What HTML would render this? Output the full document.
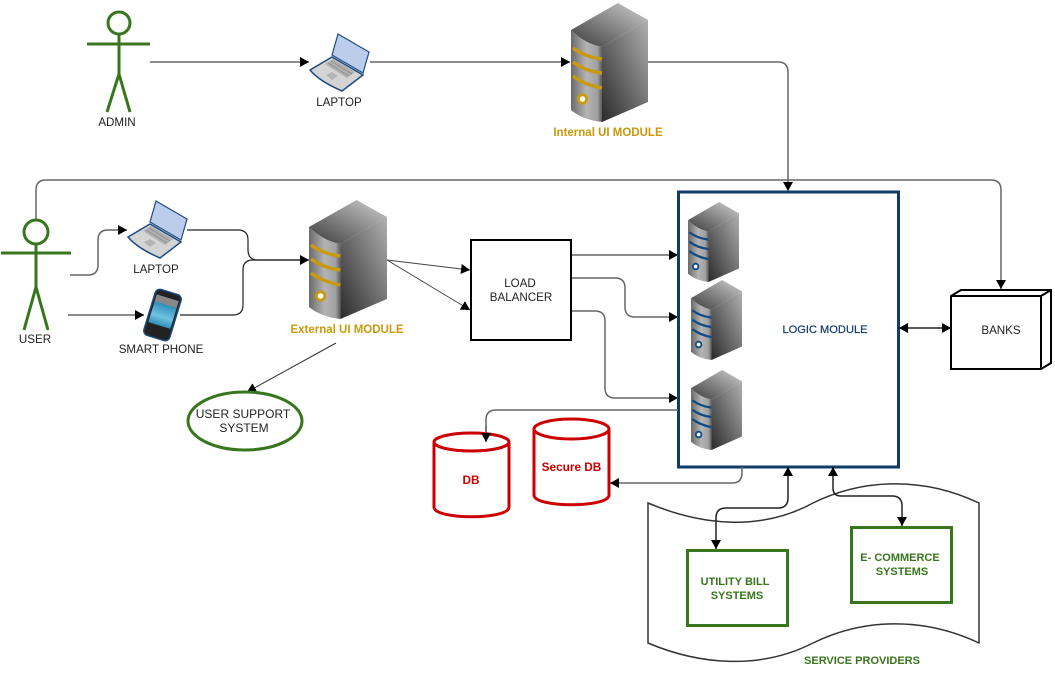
<!DOCTYPE html>
<html>
<head>
<meta charset="utf-8">
<style>
html,body{margin:0;padding:0;background:#fff;width:1055px;height:686px;overflow:hidden}
svg{display:block}
text{font-family:"Liberation Sans",sans-serif;font-size:12px;text-anchor:middle;fill:#222}
.b{font-weight:bold}
.g{fill:#38761d;font-size:11px}
.r{fill:#cc0000;font-size:11.8px}
.y{fill:#c99a0e;font-size:11.5px}
.n{fill:#0f3c68;font-size:11.1px;stroke:#0f3c68;stroke-width:.2}
.s{font-size:11.6px}
.c{fill:none;stroke:#666;stroke-width:1.5}
.d{fill:none;stroke:#222;stroke-width:1.5}
.t{fill:none;stroke:#333;stroke-width:1}
.actor{fill:none;stroke:#38761d;stroke-width:3}
</style>
</head>
<body>
<svg width="1055" height="686" viewBox="0 0 1055 686" xmlns="http://www.w3.org/2000/svg">
<defs>
<marker id="a" markerUnits="userSpaceOnUse" markerWidth="10" markerHeight="10" refX="9" refY="5" orient="auto-start-reverse">
<path d="M0 0L9 5L0 10Z" fill="#000"/>
</marker>
<linearGradient id="st" x1="0" y1="1" x2="1" y2="0"><stop offset="0" stop-color="#3c3c3c"/><stop offset="1" stop-color="#d0d0d0"/></linearGradient>
<linearGradient id="sr" x1="0" y1="1" x2="1" y2="0"><stop offset="0" stop-color="#2a2a2a"/><stop offset="1" stop-color="#b0b0b0"/></linearGradient>
<linearGradient id="sl" x1="0" y1="0" x2="1" y2="0"><stop offset="0" stop-color="#6a6a6a"/><stop offset=".5" stop-color="#b4b4b4"/><stop offset=".85" stop-color="#a0a0a0"/><stop offset="1" stop-color="#5a5a5a"/></linearGradient>
<linearGradient id="ps" x1="0" y1="0" x2="0" y2="1"><stop offset="0" stop-color="#2f8fb8"/><stop offset=".6" stop-color="#6fc2e2"/><stop offset="1" stop-color="#2f8fb8"/></linearGradient>
<symbol id="server" viewBox="0 0 77 119" preserveAspectRatio="none">
<path d="M47 0L77 17L31 44Q14 41 0 27Z" fill="url(#st)"/>
<path d="M31 44L77 17V99L31 119Z" fill="url(#sr)"/>
<path d="M0 27Q14 41 31 44V119Q12 117 0 107Z" fill="url(#sl)"/>
<g fill="none" stroke="currentColor" stroke-width="3.4">
<path d="M2 45Q14 54 31 56"/>
<path d="M2 59Q14 68 31 70"/>
<path d="M2 73Q14 82 31 85"/>
</g>
<circle cx="11.5" cy="96" r="4.2" fill="#fff" stroke="currentColor" stroke-width="2.8"/>
</symbol>
<symbol id="laptop" viewBox="0 0 61 59">
<path d="M29 1L60 19L54 40L23 22Z" fill="#bccdec" stroke="#1c4a80" stroke-width="1.2"/>
<path d="M1 37L23 24L54 42L33 58Q10 48 1 37Z" fill="#d4d4d4" stroke="#1c4a80" stroke-width="1.5"/>
<path d="M16 31L24 26L46 39L38 45Z" fill="#b0b0b0"/>
<g stroke="#8e8e8e" stroke-width=".8"><path d="M19 30L40 43M22 28L43 41"/></g>
<path d="M17 42L23 39L29 43L23 47Z" fill="#b4b4b4"/>
</symbol>
</defs>

<!-- service providers document -->
<path d="M648 503C700 525 760 532 813 503C860 480 920 475 979 503V643C920 615 860 620 813 643C760 670 700 665 648 643Z" fill="#fff" stroke="#333" stroke-width="1.5"/>

<!-- logic box -->
<rect x="678.5" y="192" width="220" height="275" fill="#fff" stroke="#0f3c68" stroke-width="3"/>
<use href="#server" x="688" y="202" width="51" height="80" style="color:#0f4a85"/>
<use href="#server" x="691" y="280" width="51" height="80" style="color:#0f4a85"/>
<use href="#server" x="691" y="370" width="51" height="80" style="color:#0f4a85"/>
<text x="825" y="333" class="n">LOGIC MODULE</text>

<!-- main servers -->
<use href="#server" x="571" y="3" width="77" height="119" style="color:#c99a0e"/>
<use href="#server" x="309" y="200" width="78" height="119" style="color:#c99a0e"/>
<text x="608" y="136" class="b y">Internal UI MODULE</text>
<text x="347" y="333" class="b y">External UI MODULE</text>

<!-- laptops -->
<use href="#laptop" x="309" y="33" width="61" height="59"/>
<use href="#laptop" x="127" y="200" width="61" height="59"/>
<text x="339" y="106" class="s">LAPTOP</text>
<text x="156" y="273" class="s">LAPTOP</text>

<!-- phone -->
<g transform="rotate(17 162.5 315)">
<rect x="149" y="291" width="27" height="48" rx="5" fill="#222" stroke="#1c4a80" stroke-width="1.5"/>
<rect x="151" y="297" width="23" height="8" fill="#888"/>
<rect x="151" y="304" width="23" height="22" fill="url(#ps)"/>
</g>
<text x="161" y="353" class="s">SMART PHONE</text>

<!-- actors -->
<g class="actor">
<circle cx="119" cy="23" r="11"/>
<path d="M87 44H150M119 34V74M119 74L107 112M119 74L130 112"/>
<circle cx="36" cy="232" r="12"/>
<path d="M1 253H71M36 244V287M36 287L24 330M36 287L48 330"/>
</g>
<text x="117" y="126" class="s">ADMIN</text>
<text x="35" y="343" class="s">USER</text>

<!-- connectors -->
<path class="c" d="M150 62H309" marker-end="url(#a)"/>
<path class="c" d="M370 62H570" marker-end="url(#a)"/>
<path class="c" d="M648 62H778Q788 62 788 72V191" marker-end="url(#a)"/>
<path class="c" d="M36 220V190Q36 180 46 180H991Q1001 180 1001 190V289" marker-end="url(#a)"/>
<path class="c" d="M70 275H88Q98 275 98 265V240Q98 230 108 230H127" marker-end="url(#a)"/>
<path class="c" d="M68 315H144" marker-end="url(#a)"/>
<path class="d" style="stroke-width:1.2" d="M187 230H238Q248 230 248 240V250Q248 260 258 260H309" marker-end="url(#a)"/>
<path class="d" style="stroke-width:1.2" d="M180 315H233Q243 315 243 305V270Q243 260 253 260H300"/>
<path class="t" style="stroke:#444" d="M387 260L470 270" marker-end="url(#a)"/>
<path class="t" style="stroke:#444" d="M387 260L470 310" marker-end="url(#a)"/>
<path class="t" d="M336 343L247 392" marker-end="url(#a)"/>
<path class="c" d="M571 255H678" marker-end="url(#a)"/>
<path class="c" d="M571 278H615Q625 278 625 288V307Q625 317 635 317H678" marker-end="url(#a)"/>
<path class="c" d="M571 311H595Q605 311 605 321V388Q605 398 615 398H678" marker-end="url(#a)"/>
<path class="c" d="M678 410H496Q486 410 486 420V442" marker-end="url(#a)"/>
<path class="c" d="M742 467V473Q742 483 732 483H610" marker-end="url(#a)"/>
<path class="d" d="M899 328H951" marker-start="url(#a)" marker-end="url(#a)"/>
<path class="d" d="M788 467V498Q788 508 778 508H726Q716 508 716 518V549" marker-start="url(#a)" marker-end="url(#a)"/>
<path class="d" d="M833 467V488Q833 496 841 496H892Q902 496 902 506V526" marker-start="url(#a)" marker-end="url(#a)"/>

<!-- load balancer -->
<rect x="471" y="240" width="100" height="100" fill="#fff" stroke="#000" stroke-width="2"/>
<text x="520" y="287" class="s">LOAD</text>
<text x="521" y="301" class="s">BALANCER</text>

<!-- support -->
<ellipse cx="245" cy="421" rx="57" ry="29" fill="#fff" stroke="#38761d" stroke-width="3"/>
<text x="243" y="418">USER SUPPORT</text>
<text x="244" y="432">SYSTEM</text>

<!-- DBs -->
<g fill="#fff" stroke="#cc0000" stroke-width="3">
<path d="M434 442V507C434 520 509 520 509 507V442"/>
<ellipse cx="471.5" cy="442" rx="37.5" ry="9"/>
<path d="M534 429V495C534 508 609 508 609 495V429"/>
<ellipse cx="571.5" cy="429" rx="37.5" ry="10"/>
</g>
<path class="c" d="M486 425V442" marker-end="url(#a)"/>
<text x="471" y="484" class="b r">DB</text>
<text x="571.5" y="471" class="b r">Secure DB</text>

<!-- banks -->
<path d="M951 296L961 290H1051V363L1041 369H951Z" fill="#fff" stroke="#000" stroke-width="2"/>
<path d="M951 296H1041V369M1041 296L1051 290" fill="none" stroke="#000" stroke-width="2"/>
<text x="1001" y="334" class="s">BANKS</text>

<!-- systems -->
<rect x="687.5" y="550.5" width="100" height="75" fill="#fff" stroke="#38761d" stroke-width="3"/>
<rect x="851.5" y="527.5" width="100" height="75" fill="#fff" stroke="#38761d" stroke-width="3"/>
<text x="735" y="585" class="b g">UTILITY BILL</text>
<text x="737" y="599" class="b g">SYSTEMS</text>
<text x="900" y="561" class="b g">E- COMMERCE</text>
<text x="902" y="575" class="b g">SYSTEMS</text>
<text x="862" y="664" class="b g">SERVICE PROVIDERS</text>
</svg>
</body>
</html>
